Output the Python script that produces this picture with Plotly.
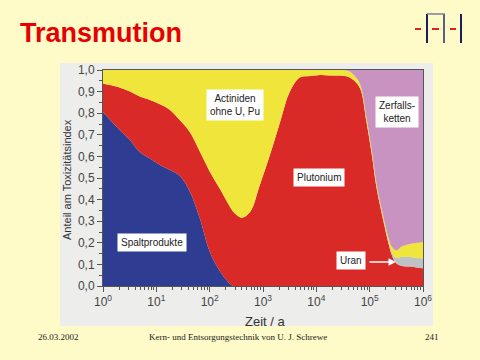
import plotly.graph_objects as go

# Zeit in Jahren
zeit = [1, 1.35, 2.1, 3.2, 4.9, 7.6, 11.7, 18, 27.5, 42, 66, 100, 155, 240, 275, 400,
        575, 870, 1350, 2100, 3200, 4900, 7600, 11700, 18000, 27500, 40000, 49000,
        66000, 87000, 110000, 135000, 182000, 224000, 263000, 316000, 400000, 575000,
        800000, 1000000]

spaltprodukte = [0.805, 0.77, 0.72, 0.676, 0.62, 0.59, 0.56, 0.537, 0.51, 0.44, 0.31,
                 0.16, 0.07, 0.01, 0, 0, 0, 0, 0, 0, 0, 0, 0, 0, 0, 0, 0, 0, 0, 0, 0,
                 0, 0, 0, 0, 0, 0, 0, 0, 0]

plutonium = [0.133, 0.16, 0.198, 0.224, 0.257, 0.271, 0.281, 0.278, 0.258, 0.274, 0.31,
             0.37, 0.38, 0.357, 0.345, 0.316, 0.344, 0.467, 0.606, 0.76, 0.90, 0.965,
             0.972, 0.977, 0.975, 0.974, 0.968, 0.955, 0.915, 0.76, 0.607, 0.452, 0.298,
             0.2, 0.14, 0.105, 0.093, 0.09, 0.085, 0.082]

uran = [0, 0, 0, 0, 0, 0, 0, 0, 0, 0, 0, 0, 0, 0, 0, 0, 0, 0, 0, 0, 0, 0, 0, 0, 0, 0,
        0, 0, 0, 0, 0, 0.002, 0.003, 0.005, 0.012, 0.025, 0.042, 0.044, 0.045, 0.046]

actiniden = [0.062, 0.07, 0.082, 0.10, 0.123, 0.139, 0.159, 0.185, 0.232, 0.286, 0.38,
             0.47, 0.55, 0.633, 0.655, 0.684, 0.656, 0.533, 0.394, 0.24, 0.10, 0.035,
             0.028, 0.023, 0.025, 0.026, 0.027, 0.025, 0.02, 0.02, 0.02, 0.018, 0.017,
             0.02, 0.028, 0.035, 0.048, 0.061, 0.07, 0.077]

zerfallsketten = [0, 0, 0, 0, 0, 0, 0, 0, 0, 0, 0, 0, 0, 0, 0, 0, 0, 0, 0, 0, 0, 0, 0,
                  0, 0, 0, 0.005, 0.02, 0.065, 0.22, 0.373, 0.528, 0.682, 0.775, 0.82,
                  0.835, 0.817, 0.805, 0.8, 0.795]

x_tickvals = [1, 10, 100, 1000, 10000, 100000, 1000000]
x_ticktext = ["10<sup>0</sup>", "10<sup>1</sup>", "10<sup>2</sup>", "10<sup>3</sup>",
              "10<sup>4</sup>", "10<sup>5</sup>", "10<sup>6</sup>"]

series = [
    ("Spaltprodukte", spaltprodukte, "#2E3D91"),
    ("Plutonium", plutonium, "#D92A27"),
    ("Uran", uran, "#BEC2C4"),
    ("Actiniden ohne U, Pu", actiniden, "#F0E53A"),
    ("Zerfallsketten", zerfallsketten, "#C893C1"),
]

fig = go.Figure()
for name, vals, col in series:
    fig.add_trace(go.Scatter(
        x=zeit, y=vals, name=name, mode="lines", stackgroup="one",
        line=dict(width=0, shape="spline", smoothing=1.0, color=col),
        fillcolor=col, hoverinfo="skip"))

# pixel -> paper helpers (plot area: x 103..423, y 70..286)
def px(x):
    return (x - 103) / 320.0

def py(y):
    return (286 - y) / 216.0

shapes = [
    dict(type="rect", xref="paper", yref="paper", x0=px(60), x1=px(433),
         y0=py(326), y1=py(63), fillcolor="#EDEDEB", line=dict(width=0), layer="below"),
]
# logo
navy = "#1A1F5A"
red = "#E0201E"
for (x0, x1) in [(415, 421), (432, 439), (450, 456)]:
    shapes.append(dict(type="line", xref="paper", yref="paper", x0=px(x0), x1=px(x1),
                       y0=py(29), y1=py(29), line=dict(color=red, width=2)))
for xb, c in [(427, navy), (444, "#5A5F80"), (461, navy)]:
    shapes.append(dict(type="line", xref="paper", yref="paper", x0=px(xb), x1=px(xb),
                       y0=py(14), y1=py(43), line=dict(color=c, width=2)))
shapes.append(dict(type="line", xref="paper", yref="paper", x0=px(427), x1=px(445),
                   y0=py(14), y1=py(14), line=dict(color="#7A7E98", width=1.5)))

lab_font = dict(family="Liberation Sans, Arial, sans-serif", size=10, color="#222222")
foot_font = dict(family="Liberation Serif, Times New Roman, serif", size=9, color="#222222")


def ann(text, x, y, **kw):
    d = dict(text=text, xref="paper", yref="paper", x=px(x), y=py(y),
             xanchor="center", yanchor="middle", showarrow=False)
    d.update(kw)
    return d


annotations = [
    ann("Transmution", 18, 33, xanchor="left",
        font=dict(family="Liberation Sans, Arial, sans-serif", size=27, color="#E60000",
                  weight="bold")),
    ann("Actiniden<br>ohne U, Pu", 235, 105, bgcolor="white", borderpad=3, font=lab_font),
    ann("Zerfalls-<br>ketten", 397, 112, bgcolor="white", borderpad=3, font=lab_font),
    ann("Plutonium", 319, 177, bgcolor="white", borderpad=3, font=lab_font),
    ann("Spaltprodukte", 152, 242, bgcolor="white", borderpad=3, font=lab_font),
    ann("Uran", 351, 260, bgcolor="white", borderpad=3, font=lab_font),
    dict(text="", xref="paper", yref="paper", x=px(396), y=py(262), ax=-28, ay=0,
         showarrow=True, arrowhead=2, arrowsize=1, arrowwidth=1.5, arrowcolor="white"),
    ann("Anteil am Toxizitätsindex", 67, 180, textangle=-90,
        font=dict(family="Liberation Sans, Arial, sans-serif", size=11, color="#333333")),
    ann("Zeit / a", 265, 321,
        font=dict(family="Liberation Sans, Arial, sans-serif", size=13, color="#333333")),
    ann("26.03.2002", 58, 337, font=foot_font),
    ann("Kern- und Entsorgungstechnik von U. J. Schrewe", 238, 337, font=foot_font),
    ann("241", 432, 337, font=foot_font),
]

minor_x = [m * 10 ** e for e in range(6) for m in range(2, 10)]

fig.update_layout(
    width=480, height=360,
    margin=dict(l=103, r=57, t=70, b=74),
    paper_bgcolor="#FEFBC9", plot_bgcolor="#EDEDEB",
    showlegend=False, separators=", ",
    shapes=shapes, annotations=annotations,
    font=dict(family="Liberation Sans, Arial, sans-serif", size=12, color="#444444"),
)
fig.update_xaxes(type="log", range=[0, 6], tickmode="array", tickvals=x_tickvals,
                 ticktext=x_ticktext, ticks="outside", ticklen=5, tickcolor="#555555",
                 showgrid=False, zeroline=False, showline=True, linecolor="#555555",
                 mirror=True, tickfont=dict(size=12, color="#444444"),
                 minor=dict(tickmode="array", tickvals=minor_x, ticks="outside",
                            ticklen=3, tickcolor="#555555", showgrid=False))
fig.update_yaxes(range=[0, 1], dtick=0.1, tickformat=".1f", ticks="outside", ticklen=5,
                 tickcolor="#555555", showgrid=False, zeroline=False, showline=True,
                 linecolor="#555555", mirror=True, tickfont=dict(size=12, color="#444444"),
                 minor=dict(dtick=0.05, ticks="outside", ticklen=3, tickcolor="#555555",
                            showgrid=False))

fig.write_html("out.html", config={"displayModeBar": False},
               post_script="document.body.style.margin='0';document.body.style.background='#FEFBC9';")
